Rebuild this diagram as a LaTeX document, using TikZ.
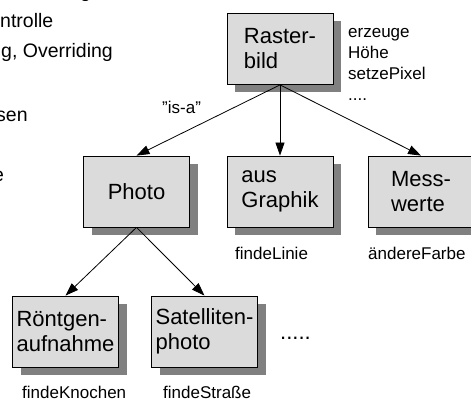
\documentclass[tikz,border=0pt]{standalone}
\usepackage{fontspec}
\setmainfont{Liberation Sans}
\usetikzlibrary{arrows.meta,shadows}

\begin{document}
\begin{tikzpicture}[x=1pt,y=-1pt,
  klasse/.style={draw, line width=0.8pt, fill=black!14, minimum width=106pt, minimum height=71pt,
    inner sep=0pt, align=left, font=\fontsize{22}{25}\selectfont,
    drop shadow={shadow xshift=8pt, shadow yshift=-8pt, fill=black!50, opacity=1}},
  methode/.style={anchor=base west, inner sep=0pt, font=\fontsize{17}{21}\selectfont},
  folie/.style={anchor=base west, inner sep=0pt, font=\fontsize{19.5}{24}\selectfont},
  isa/.style={line width=0.8pt, -{Triangle[length=13pt,width=9pt]}}]

  % Frame of the picture
  \path[use as bounding box, clip] (0,0) rectangle (471,401);

  % Text of the slide behind the picture
  \node[folie] (z0) at (80,-2) {g};
  \node[folie] (z1) at (0,28) {ntrolle};
  \node[folie] (z2) at (1,58) {g, Overriding};
  \node[folie] (z3) at (-4,122) {sen};
  \node[folie] (z4) at (-7,181) {e};

  % Classes
  \node[klasse] (raster) at (280,49) {Raster-\\bild};
  \node[klasse] (photo) at (136.5,191.5) {Photo};
  \node[klasse] (graphik) at (280,191.5) {aus\\Graphik};
  \node[klasse] (mess) at (421,191.5) {Mess-\\werte};
  \node[klasse] (roentgen) at (65.5,331.5) {Röntgen-\\aufnahme};
  \node[klasse] (satellit) at (204.5,331.5) {Satelliten-\\photo};
  \node[anchor=base west, inner sep=0pt, font=\fontsize{22}{25}\selectfont] (weitere) at (280,339) {.....};

  % Methods
  \foreach \txt [count=\i] in {erzeuge,Höhe,setzePixel}
    \node[methode] (rm\i) at (348,17+21*\i) {\txt};
  \node[methode] (rm4) at (348,101) {....};
  \node[methode] (gm) at (235,259) {findeLinie};
  \node[methode] (mm) at (368,259) {ändereFarbe};
  \node[methode] (rgm) at (22,398) {findeKnochen};
  \node[methode] (sm) at (163,398) {findeStraße};
  \node[methode] (isalabel) at (162,114) {"is-a"};

  % Inheritance arrows
  \draw[isa] (raster.south) -- (photo.north);
  \draw[isa] (raster.south) -- (graphik.north);
  \draw[isa] (raster.south) -- (mess.north);
  \draw[isa] (photo.south) -- (roentgen.north);
  \draw[isa] (photo.south) -- (satellit.north);
\end{tikzpicture}
\end{document}
